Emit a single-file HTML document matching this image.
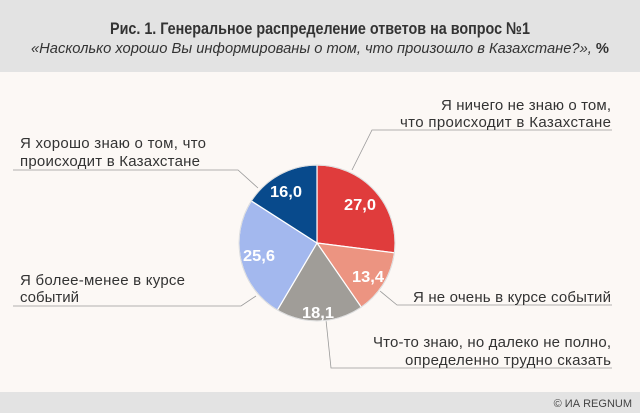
<!DOCTYPE html>
<html><head><meta charset="utf-8"><style>
body{margin:0;width:640px;height:413px;overflow:hidden;background:#fcf8f5;font-family:"Liberation Sans","DejaVu Sans",sans-serif}
</style></head><body>
<svg width="640" height="413" xmlns="http://www.w3.org/2000/svg" style="display:block">
<rect x="0" y="0" width="640" height="72" fill="#e3e3e3"/>
<rect x="0" y="72" width="640" height="320" fill="#fcf8f5"/>
<rect x="0" y="392" width="640" height="21" fill="#e3e3e3"/>
<text x="320" y="34" text-anchor="middle" font-size="17" font-weight="bold" fill="#333" textLength="420" lengthAdjust="spacingAndGlyphs">Рис. 1. Генеральное распределение ответов на вопрос №1</text>
<text x="320" y="53" text-anchor="middle" font-size="15" font-style="italic" fill="#333" textLength="578" lengthAdjust="spacingAndGlyphs">«Насколько хорошо Вы информированы о том, что произошло в Казахстане?», <tspan font-weight="bold" font-style="normal">%</tspan></text>
<g stroke="#999" stroke-width="0.8" fill="none">
<polyline points="352,170 372,130 612,130"/>
<polyline points="380,291 397,305 612,305"/>
<polyline points="326,320 331,368 612,368"/>
<polyline points="256,296 241,306 13,306"/>
<polyline points="258,188 238,170 13,170"/>
</g>
<g stroke="#fff" stroke-width="1.2">
<path d="M317,243 L317,165 A78,78 0 0 1 394.4,252.8 Z" fill="#e03c3c"/>
<path d="M317,243 L394.4,252.8 A78,78 0 0 1 361.3,307.2 Z" fill="#ec9481"/>
<path d="M317,243 L361.3,307.2 A78,78 0 0 1 277.3,310.2 Z" fill="#a09d98"/>
<path d="M317,243 L277.3,310.2 A78,78 0 0 1 251.3,200.9 Z" fill="#a3b8ee"/>
<path d="M317,243 L251.3,200.9 A78,78 0 0 1 317,165 Z" fill="#084a8c"/>
</g>
<circle cx="317" cy="243" r="78" fill="none" stroke="#ddd" stroke-width="1"/>
<g fill="#fff" font-size="16" font-weight="bold" text-anchor="middle">
<text x="360" y="210" textLength="32" lengthAdjust="spacingAndGlyphs">27,0</text>
<text x="368" y="282" textLength="32" lengthAdjust="spacingAndGlyphs">13,4</text>
<text x="318" y="318" textLength="32" lengthAdjust="spacingAndGlyphs">18,1</text>
<text x="259" y="261" textLength="32" lengthAdjust="spacingAndGlyphs">25,6</text>
<text x="286" y="197" textLength="32" lengthAdjust="spacingAndGlyphs">16,0</text>
</g>
<g fill="#333" font-size="15">
<text x="611" y="110" text-anchor="end" textLength="170">Я ничего не знаю о том,</text>
<text x="611" y="127" text-anchor="end" textLength="211">что происходит в Казахстане</text>
<text x="611" y="302" text-anchor="end" textLength="198">Я не очень в курсе событий</text>
<text x="611" y="347" text-anchor="end" textLength="238">Что-то знаю, но далеко не полно,</text>
<text x="611" y="365" text-anchor="end" textLength="206">определенно трудно сказать</text>
<text x="20" y="148" textLength="186">Я хорошо знаю о том, что</text>
<text x="20" y="166" textLength="180">происходит в Казахстане</text>
<text x="20" y="285" textLength="165">Я более-менее в курсе</text>
<text x="20" y="302">событий</text>
</g>
<text x="632" y="407" text-anchor="end" font-size="11" fill="#444">© ИА REGNUM</text>
</svg>
</body></html>
